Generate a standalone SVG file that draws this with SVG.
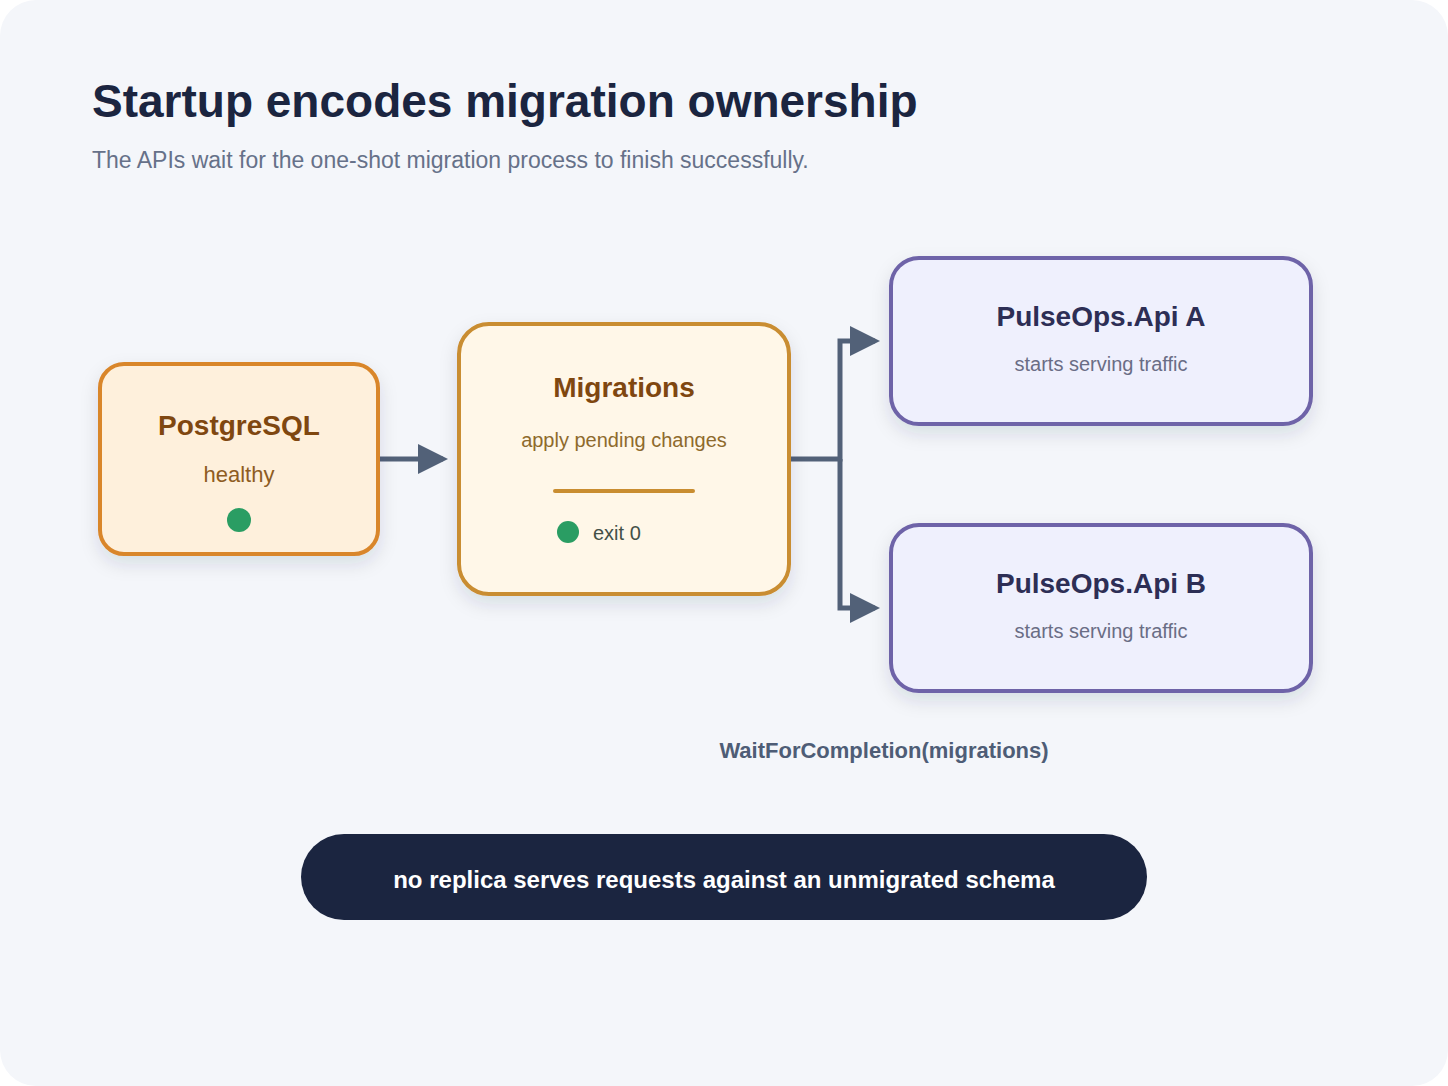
<svg xmlns="http://www.w3.org/2000/svg" width="1448" height="1086" viewBox="0 0 1448 1086">
<style>
text{font-family:"Liberation Sans",Arial,sans-serif}
.t{font-weight:bold;text-anchor:middle}
.c{stroke:#526178;stroke-width:5;fill:none}
</style>
<defs>
<marker id="ah" markerWidth="6" markerHeight="6" refX="5" refY="3" orient="auto" markerUnits="strokeWidth"><path d="M0,0 L6,3 L0,6 z" fill="#526178"/></marker>
<filter id="sh" x="-20%" y="-20%" width="140%" height="150%"><feDropShadow dx="0" dy="8" stdDeviation="9" flood-color="#1a2540" flood-opacity="0.12"/></filter>
</defs>
<rect width="1448" height="1086" rx="36" fill="#f4f6fa"/>
<text x="92" y="117" font-size="46" font-weight="bold" fill="#1b2540">Startup encodes migration ownership</text>
<text x="92" y="168" font-size="23" fill="#667189">The APIs wait for the one-shot migration process to finish successfully.</text>
<g id="connectors">
<path class="c" d="M376,459 H443" marker-end="url(#ah)"/>
<path class="c" d="M789,459 H840 V341 H875" marker-end="url(#ah)"/>
<path class="c" d="M840,459 V608 H875" marker-end="url(#ah)"/>
</g>
<g id="postgres">
<rect x="100" y="364" width="278" height="190" rx="24" fill="#fef0dc" stroke="#d9862c" stroke-width="4" filter="url(#sh)"/>
<text class="t" x="239" y="435" font-size="28" fill="#7f4710">PostgreSQL</text>
<text x="239" y="482" font-size="22" fill="#8e5c22" text-anchor="middle">healthy</text>
<circle cx="239" cy="520" r="12" fill="#2a9d63"/>
</g>
<g id="migrations">
<rect x="459" y="324" width="330" height="270" rx="30" fill="#fff7e8" stroke="#c98d30" stroke-width="4" filter="url(#sh)"/>
<text class="t" x="624" y="397" font-size="28" fill="#7f4710">Migrations</text>
<text x="624" y="447" font-size="20" fill="#8e6a2c" text-anchor="middle">apply pending changes</text>
<line x1="555" y1="491" x2="693" y2="491" stroke="#c98d30" stroke-width="4" stroke-linecap="round"/>
<circle cx="568" cy="532" r="11" fill="#2a9d63"/>
<text x="593" y="540" font-size="20" fill="#435047">exit 0</text>
</g>
<g id="apiA">
<rect x="891" y="258" width="420" height="166" rx="28" fill="#eff0fd" stroke="#6e63a8" stroke-width="4" filter="url(#sh)"/>
<text class="t" x="1101" y="326" font-size="28" fill="#2d2e55">PulseOps.Api A</text>
<text x="1101" y="371" font-size="20" fill="#6a6d85" text-anchor="middle">starts serving traffic</text>
</g>
<g id="apiB">
<rect x="891" y="525" width="420" height="166" rx="28" fill="#eff0fd" stroke="#6e63a8" stroke-width="4" filter="url(#sh)"/>
<text class="t" x="1101" y="593" font-size="28" fill="#2d2e55">PulseOps.Api B</text>
<text x="1101" y="638" font-size="20" fill="#6a6d85" text-anchor="middle">starts serving traffic</text>
</g>
<text class="t" x="884" y="758" font-size="22" fill="#4e5d76">WaitForCompletion(migrations)</text>
<g id="banner">
<rect x="301" y="834" width="846" height="86" rx="43" fill="#1b2540"/>
<text class="t" x="724" y="888" font-size="24" fill="#ffffff">no replica serves requests against an unmigrated schema</text>
</g>
</svg>
